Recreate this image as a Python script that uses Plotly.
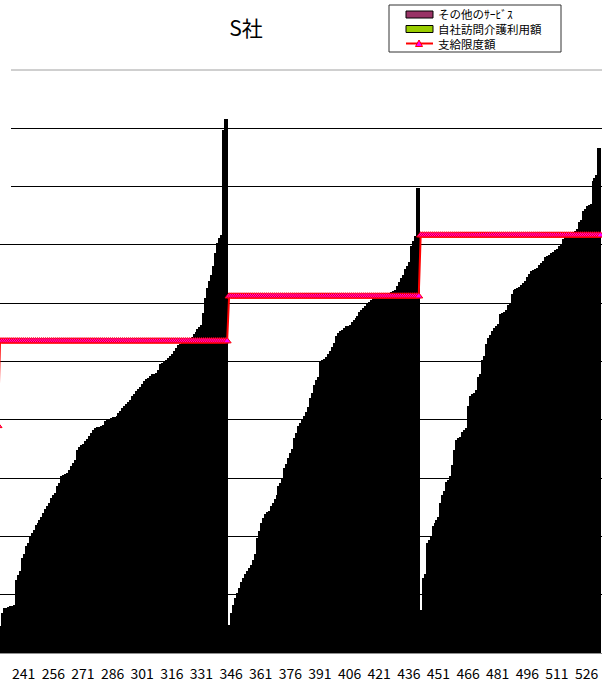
import plotly.graph_objects as go

# ---- data (yen), categories are sequential client numbers ----
first_category = 229

# totals of each bar (自社 + その他), sorted within each care level
total_lv3 = [21440, 21440, 32590, 36880, 36880, 37730, 38590, 38590, 39450, 60890,
             65180, 68610, 79760, 83190, 90050, 92620, 98620, 101200, 103770, 108060,
             109770, 112350, 114920, 118350, 121780, 124350, 126920, 131210, 133790, 135500,
             141500, 144080, 150080, 150940, 151800, 152650, 155220, 158660, 161230, 163800,
             172380, 174950, 176670, 177520, 180100, 181810, 184380, 186960, 189530, 191240,
             192100, 192100, 192960, 193820, 197250, 198110, 198960, 199820, 200680, 200680,
             201540, 204110, 205820, 208400, 210110, 211830, 213540, 215260, 218690, 220400,
             222980, 224690, 226410, 228980, 231550, 233270, 234120, 235840, 237560, 237560,
             238410, 240990, 246130, 246990, 247850, 249560, 251280, 252990, 254710, 257280,
             259850, 262430, 263280, 264140, 265000, 265860, 266710, 268430, 269290, 271860,
             273570, 276150, 277860, 279580, 289870, 302730, 311310, 317310, 322460, 330180,
             341320, 349900, 354190, 356760, 446810, 456240]
total_lv4 = [11150, 22300, 32590, 39450, 45450, 49740, 54030, 59170, 62600, 66040,
             68610, 71180, 73750, 78040, 83190, 96910, 102910, 109770, 114060, 117490,
             119210, 120060, 124350, 126920, 130360, 133790, 141500, 144080, 147510, 156940,
             160370, 165520, 169800, 173240, 182670, 186960, 192960, 195530, 198110, 201540,
             204970, 209250, 216970, 221260, 228120, 232410, 234980, 247850, 249560, 250420,
             252130, 254710, 257280, 260710, 264140, 270140, 272720, 274430, 275290, 277000,
             278720, 278720, 279580, 282150, 283870, 285580, 287300, 290730, 292440, 294160,
             295870, 297590, 299300, 301020, 302730, 303590, 304450, 304450, 305310, 305310,
             306160, 306160, 307020, 307880, 308740, 309590, 313020, 316450, 319880, 322460,
             327600, 330180, 333610, 347330, 351620, 355900, 397070]
total_lv5 = [26590, 35160, 62600, 66040, 92620, 95190, 98620, 107200, 109770, 112350,
             114920, 126920, 133790, 137220, 144930, 146650, 150080, 159510, 172380, 180950,
             182670, 183530, 187810, 189530, 191240, 210110, 218690, 220400, 221260, 223830,
             234980, 237560, 249560, 252990, 263280, 268430, 271000, 274430, 277000, 278720,
             280440, 289010, 289870, 290730, 292440, 296730, 298440, 306160, 309590, 310450,
             311310, 312170, 313880, 315600, 317310, 320740, 323320, 325890, 326750, 327600,
             328460, 331030, 332750, 334460, 337890, 338750, 339610, 341320, 342180, 343900,
             344760, 347330, 349040, 353330, 355050, 356760, 357620, 358480, 359330, 360190,
             361910, 367910, 369630, 377340, 379060, 381630, 382490, 383350, 403070, 405640,
             408220, 431370]

# 自社訪問介護利用額 (bottom, green part of each bar)
own_lv3 = [15000, 18000, 22000, 20000, 25000, 12000, 22000, 30000, 8000,
           45000, 30000, 20000, 45000, 38000, 12000, 40000, 25000, 55000, 18000, 30000, 14000, 42000,
           35000, 22000, 60000, 97000, 28000, 48000, 101000, 20000, 82000, 70000,
           30000, 82000, 15000, 40000, 55000, 25000, 60000, 35000, 18000, 45000,
           50000, 45000, 30000, 117000, 22000, 60000, 40000, 28000, 117000, 82000,
           35000, 15000, 50000, 127000, 20000, 45000, 70000, 30000, 55000, 25000,
           134000, 40000, 18000, 60000, 210000, 30000, 50000, 138000, 25000, 45000,
           80000, 131000, 20000, 35000, 60000, 15000, 131000, 28000, 45000, 70000,
           45000, 30000, 185000, 55000, 20000, 75000, 137000, 40000, 82000, 25000,
           60000, 35000, 95000, 18000, 50000, 70000, 30000, 120000, 45000, 22000,
           60000, 40000, 150000, 30000, 90000, 55000, 20000, 100000, 45000, 70000,
           35000, 120000, 80000, 60000]
own_lv4 = [8000, 15000, 20000, 30000, 25000, 47000, 20000, 35000, 45000, 18000,
           40000, 60000, 25000, 50000, 70000, 30000, 65000, 20000, 45000, 70000,
           35000, 55000, 15000, 80000, 40000, 60000,
           35000, 70000, 25000, 148000, 50000, 30000, 90000, 60000, 20000, 140000,
           45000, 80000, 146000, 35000, 55000, 167000, 25000, 70000, 40000, 100000,
           50000, 30000, 140000, 245000, 60000, 35000, 187000, 45000, 80000, 25000,
           140000, 55000, 120000, 30000, 70000, 100000, 40000, 60000, 210000, 35000,
           150000, 80000, 45000, 60000, 264000, 30000, 100000, 50000, 70000, 120000,
           40000, 90000, 60000, 25000, 140000, 80000, 201000, 160000, 50000, 100000,
           60000, 30000, 120000, 80000, 200000, 40000, 70000, 150000, 30000, 90000, 60000]
own_lv5 = [20000, 25000, 40000, 30000, 78000, 35000, 50000, 20000, 70000, 45000, 30000,
           70000, 40000, 90000, 25000, 60000, 35000, 110000, 50000, 117000, 30000,
           80000, 45000, 77000, 20000, 131000, 60000, 40000, 100000,
           117000, 50000, 30000, 90000, 154000, 45000, 70000, 25000, 80000, 40000,
           60000, 35000, 70000, 20000, 100000, 50000, 159000, 80000, 40000, 60000,
           223000, 60000, 40000, 193000, 100000, 30000, 70000, 50000, 120000, 35000,
           80000, 165000, 60000, 140000, 45000, 100000, 30000, 70000, 55000, 110000,
           189000, 60000, 80000, 40000, 331000, 90000, 50000, 70000, 120000, 35000,
           60000, 100000, 134000, 80000, 251000, 60000, 206000, 90000, 40000, 120000,
           154000, 70000, 100000]

# 支給限度額 per care level (要介護2 for the bar just left of view, then 3, 4, 5)
limit_lv2 = 194800
limit_lv3 = 267500
limit_lv4 = 306000
limit_lv5 = 358300

tick_labels = [226, 241, 256, 271, 286, 301, 316, 331, 346, 361, 376, 391,
               406, 421, 436, 451, 466, 481, 496, 511, 526]

series_names = ["その他のｻｰﾋﾞｽ", "自社訪問介護利用額", "支給限度額"]
color_other = "#993366"
color_own = "#99CC00"

# ---- assemble ----
totals = total_lv3 + total_lv4 + total_lv5
own = own_lv3 + own_lv4 + own_lv5
other = [t - o for t, o in zip(totals, own)]
cats = list(range(first_category, first_category + len(totals)))

limit_x = [first_category - 1] + cats
limit_y = ([limit_lv2] + [limit_lv3] * len(total_lv3)
           + [limit_lv4] * len(total_lv4) + [limit_lv5] * len(total_lv5))

FONT = "Noto Sans CJK JP"
W, H = 602, 682
T, B = 70, 29
PH = H - T - B


def px(x):
    return x / W


def py(y):
    return (H - B - y) / PH


fig = go.Figure()
fig.add_trace(go.Bar(
    x=cats, y=own, name=series_names[1], showlegend=False,
    marker=dict(color=color_own, line=dict(color="#000000", width=1.6)),
))
fig.add_trace(go.Bar(
    x=cats, y=other, name=series_names[0], showlegend=False,
    marker=dict(color=color_other, line=dict(color="#000000", width=1.6)),
))
fig.add_trace(go.Scatter(
    x=limit_x, y=limit_y, name=series_names[2], showlegend=False,
    mode="lines+markers",
    line=dict(color="#FF0000", width=2),
    marker=dict(symbol="triangle-up", size=7, color="#FF00FF",
                line=dict(color="#FF0000", width=1)),
))

# legend box drawn to match the original's compact legend
shapes = [
    # light top border of the plot area
    dict(type="line", xref="paper", yref="paper",
         x0=px(11), x1=1, y0=1, y1=1,
         line=dict(color="#A0A0A0", width=1), layer="above"),
    dict(type="rect", xref="paper", yref="paper",
         x0=px(389), x1=px(561), y0=py(52), y1=py(5),
         line=dict(color="#333333", width=1), fillcolor="white", layer="above"),
    dict(type="rect", xref="paper", yref="paper",
         x0=px(406), x1=px(433), y0=py(18), y1=py(11),
         line=dict(color="#000000", width=1), fillcolor=color_other, layer="above"),
    dict(type="rect", xref="paper", yref="paper",
         x0=px(406), x1=px(433), y0=py(32.5), y1=py(25.5),
         line=dict(color="#000000", width=1), fillcolor=color_own, layer="above"),
    dict(type="line", xref="paper", yref="paper",
         x0=px(406), x1=px(433), y0=py(43.5), y1=py(43.5),
         line=dict(color="#FF0000", width=2), layer="above"),
    dict(type="path", xref="paper", yref="paper",
         path="M {a},{b} L {c},{d} L {e},{f} Z".format(
             a=px(415.5), b=py(46.5), c=px(422.5), d=py(46.5), e=px(419), f=py(40)),
         line=dict(color="#FF0000", width=1), fillcolor="#FF00FF", layer="above"),
    # blank strip at the top-left where the original's gridlines start a little in
    dict(type="rect", xref="paper", yref="paper",
         x0=0, x1=px(11), y0=py(200), y1=py(60),
         line=dict(width=0), fillcolor="white", layer="above"),
]
annotations = [dict(
    xref="paper", yref="paper", x=px(436), y=py(29.3),
    xanchor="left", yanchor="middle", align="left", showarrow=False,
    text="<br>".join(series_names),
    font=dict(family=FONT, size=11.5, color="#000000"),
)]

fig.update_layout(
    width=W, height=H,
    margin=dict(l=0, r=0, t=T, b=B, pad=0, autoexpand=False),
    paper_bgcolor="white", plot_bgcolor="white",
    barmode="stack", bargap=0,
    font=dict(family=FONT, color="#000000"),
    title=dict(text="S社", x=246 / W, xanchor="center",
               y=1 - 29 / H, yanchor="middle", yref="container",
               font=dict(family=FONT, size=21, color="#000000")),
    showlegend=False,
    shapes=shapes,
    annotations=annotations,
)
fig.update_xaxes(
    range=[229.0, 533.8], automargin=False,
    tickmode="array", tickvals=tick_labels, ticktext=[str(t) for t in tick_labels],
    tickfont=dict(family=FONT, size=14, color="#000000"),
    ticklabelstandoff=8,
    ticks="", showgrid=False, zeroline=False,
    showline=True, linecolor="#909090", linewidth=1,
)
fig.update_yaxes(
    range=[0, 500000], dtick=50000, automargin=False,
    showticklabels=False, ticks="",
    showgrid=True, gridcolor="#000000", gridwidth=1,
    zeroline=False, showline=False,
)

fig.write_html(
    "out.html",
    config={"displayModeBar": False},
    post_script="document.body.style.margin='0px';document.body.style.overflow='hidden';",
)
